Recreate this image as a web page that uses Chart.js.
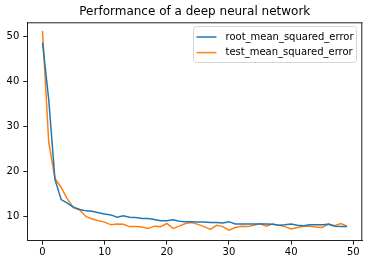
<!DOCTYPE html>
<html>
<head>
<meta charset="utf-8">
<script src="https://cdn.jsdelivr.net/npm/chart.js@4.4.0/dist/chart.umd.min.js"></script>
<style>
  html, body { margin: 0; padding: 0; background: #fff; }
</style>
</head>
<body>
<canvas id="perf" width="368" height="264"></canvas>
<script>
//--- Data
var epochs = [0, 1, 2, 3, 4, 5, 6, 7, 8, 9,
    10, 11, 12, 13, 14, 15, 16, 17, 18, 19,
    20, 21, 22, 23, 24, 25, 26, 27, 28, 29,
    30, 31, 32, 33, 34, 35, 36, 37, 38, 39,
    40, 41, 42, 43, 44, 45, 46, 47, 48, 49];
var rmse = [48.7, 36.0, 18.3, 13.8, 13.0, 12.1, 11.6, 11.3, 11.2, 10.9,
    10.6, 10.4, 9.9, 10.2, 9.9, 9.8, 9.6, 9.6, 9.4, 9.1,
    9.1, 9.3, 9.0, 8.9, 8.9, 8.8, 8.8, 8.7, 8.7, 8.6,
    8.9, 8.4, 8.4, 8.4, 8.4, 8.4, 8.4, 8.3, 8.1, 8.2,
    8.4, 8.1, 8.0, 8.2, 8.2, 8.2, 8.3, 7.9, 7.8, 7.8];
var testMse = [51.3, 26.5, 18.5, 16.5, 13.9, 12.0, 11.5, 10.0, 9.5, 9.1,
    8.8, 8.2, 8.4, 8.3, 7.8, 7.8, 7.7, 7.4, 7.9, 7.8,
    8.5, 7.4, 7.9, 8.5, 8.7, 8.3, 7.8, 7.2, 8.1, 7.8,
    7.0, 7.6, 7.9, 7.8, 8.1, 8.5, 7.9, 8.4, 8.1, 7.8,
    7.3, 7.6, 7.9, 7.9, 7.7, 7.6, 8.4, 8.0, 8.5, 7.9];
var xTicks = [0, 10, 20, 30, 40, 50];
var yTicks = [10, 20, 30, 40, 50];
var seriesNames = ['root_mean_squared_error', 'test_mean_squared_error'];
var titleText = 'Performance of a deep neural network';

var FONT = 'DejaVu Sans';

// title, top/right spines and the boxed legend, matplotlib style
var framePlugin = {
    id: 'frame',
    afterDraw: function (chart) {
        var ctx = chart.ctx;
        var a = chart.chartArea;
        ctx.save();
        ctx.strokeStyle = '#222';
        ctx.lineWidth = 1;
        ctx.beginPath();
        ctx.moveTo(a.left, a.top + 0.5);
        ctx.lineTo(a.right, a.top + 0.5);
        ctx.moveTo(a.right - 0.5, a.top);
        ctx.lineTo(a.right - 0.5, a.bottom);
        ctx.stroke();

        ctx.fillStyle = '#000';
        ctx.font = '12px "' + FONT + '"';
        ctx.textAlign = 'center';
        ctx.textBaseline = 'middle';
        ctx.fillText(titleText, (a.left + a.right) / 2, 12);

        // legend box
        var bx = 193.5, by = 26.5, bw = 163, bh = 36;
        ctx.beginPath();
        ctx.roundRect(bx, by, bw, bh, 3);
        ctx.fillStyle = 'rgba(255,255,255,0.8)';
        ctx.fill();
        ctx.strokeStyle = '#d6d6d6';
        ctx.stroke();
        ctx.font = '10px "' + FONT + '"';
        ctx.textAlign = 'left';
        chart.data.datasets.forEach(function (ds, i) {
            var ly = 37 + i * 15.6;
            ctx.strokeStyle = ds.borderColor;
            ctx.lineWidth = 1.5;
            ctx.beginPath();
            ctx.moveTo(bx + 3, ly);
            ctx.lineTo(bx + 23, ly);
            ctx.stroke();
            ctx.fillStyle = '#000';
            ctx.fillText(ds.label, bx + 32, ly);
        });
        ctx.restore();
    }
};

function axisOpts(min, max, tickList) {
    return {
        type: 'linear',
        min: min,
        max: max,
        afterBuildTicks: function (scale) {
            scale.ticks = tickList.map(function (v) { return { value: v }; });
        },
        grid: { display: true, drawOnChartArea: false, drawTicks: true, tickLength: 4, color: '#222' },
        border: { display: true, color: '#222', width: 1 },
        ticks: { color: '#000', font: { family: FONT, size: 10 }, padding: 3, maxRotation: 0 }
    };
}

var xAxis = axisOpts(-2.45, 51.45, xTicks);
xAxis.ticks.padding = 2;
xAxis.afterFit = function (scale) { scale.height = 23.3; };
var yAxis = axisOpts(4.67, 53.2, yTicks);
yAxis.ticks.padding = 4;
yAxis.afterFit = function (scale) { scale.width = 27.3; };

new Chart(document.getElementById('perf'), {
    type: 'line',
    data: {
        datasets: [
            {
                label: seriesNames[0],
                data: epochs.map(function (e, i) { return { x: e, y: rmse[i] }; }),
                borderColor: '#1f77b4',
                borderWidth: 1.5,
                pointRadius: 0,
                tension: 0
            },
            {
                label: seriesNames[1],
                data: epochs.map(function (e, i) { return { x: e, y: testMse[i] }; }),
                borderColor: '#ff7f0e',
                borderWidth: 1.5,
                pointRadius: 0,
                tension: 0
            }
        ]
    },
    options: {
        responsive: false,
        animation: false,
        devicePixelRatio: 1,
        layout: { padding: { top: 22.3, right: 5.7, left: 0, bottom: 0 } },
        plugins: { legend: { display: false }, title: { display: false }, tooltip: { enabled: false } },
        scales: { x: xAxis, y: yAxis }
    },
    plugins: [framePlugin]
});
</script>
</body>
</html>
